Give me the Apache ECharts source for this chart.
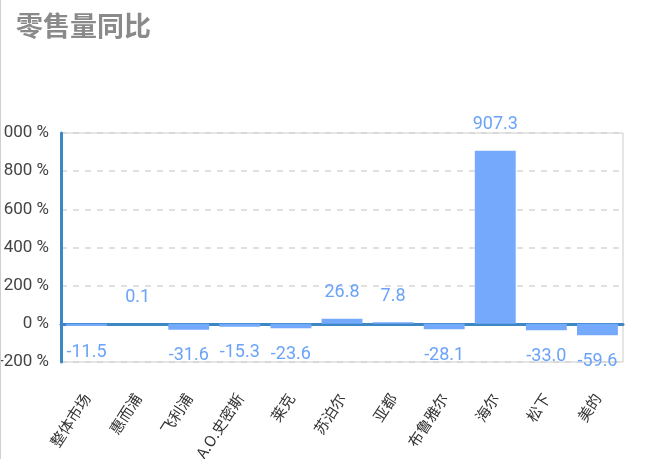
<!DOCTYPE html>
<html>
<head>
<meta charset="utf-8">
<script src="https://cdn.jsdelivr.net/npm/echarts@6/dist/echarts.min.js"></script>
<style>
  html, body { margin: 0; padding: 0; background: #fff; }
  #chart { width: 650px; height: 459px; border-left: 1px solid #d0d0d0; box-sizing: border-box; }
</style>
</head>
<body>
<div id="chart"></div>
<script>
// 品牌
var categories = ['整体市场', '惠而浦', '飞利浦', 'A.O.史密斯', '莱克', '苏泊尔', '亚都', '布鲁雅尔', '海尔', '松下', '美的'];
// 零售量同比 (%)
var yoyValues = [-11.5, 0.1, -31.6, -15.3, -23.6, 26.8, 7.8, -28.1, 907.3, -33.0, -59.6];

var chart = echarts.init(document.getElementById('chart'));

var option = {
    title: {
        text: '零售量同比',
        left: 10,
        top: 7,
        textStyle: {
            color: '#8a8a8a',
            fontSize: 27,
            fontWeight: 'bold',
            fontFamily: 'Noto Sans CJK SC'
        }
    },
    grid: {
        left: 60,
        right: 27,
        top: 133,
        bottom: 97,
        show: true,
        borderColor: '#cccccc',
        borderWidth: 1,
        containLabel: false,
        outerBoundsMode: 'none'
    },
    xAxis: {
        type: 'category',
        data: categories,
        axisLine: { lineStyle: { color: '#3d88c4', width: 3 } },
        axisTick: { show: false },
        axisLabel: {
            rotate: 57,
            interval: 0,
            color: '#333',
            fontSize: 15,
            margin: 33,
            fontFamily: 'Noto Sans CJK SC'
        }
    },
    yAxis: {
        type: 'value',
        min: -200,
        max: 1000,
        interval: 200,
        axisLine: { show: true, lineStyle: { color: '#3d88c4', width: 3 } },
        axisTick: { show: false },
        axisLabel: {
            formatter: function (v) { return v + ' %'; },
            color: '#444',
            fontSize: 17,
            margin: 12,
            fontFamily: 'Roboto'
        },
        splitLine: { lineStyle: { color: '#d6d6d6', type: [6, 6], width: 1.5 } }
    },
    series: [
        {
            name: '零售量同比',
            type: 'bar',
            data: yoyValues,
            barWidth: '80%',
            itemStyle: { color: '#74a9fb' },
            label: {
                show: true,
                position: 'outside',
                distance: 17,
                color: '#6aa3f7',
                fontSize: 18,
                fontFamily: 'Roboto',
                formatter: function (p) { return p.value.toFixed(1); }
            }
        }
    ]
};

chart.setOption(option);
</script>
</body>
</html>
